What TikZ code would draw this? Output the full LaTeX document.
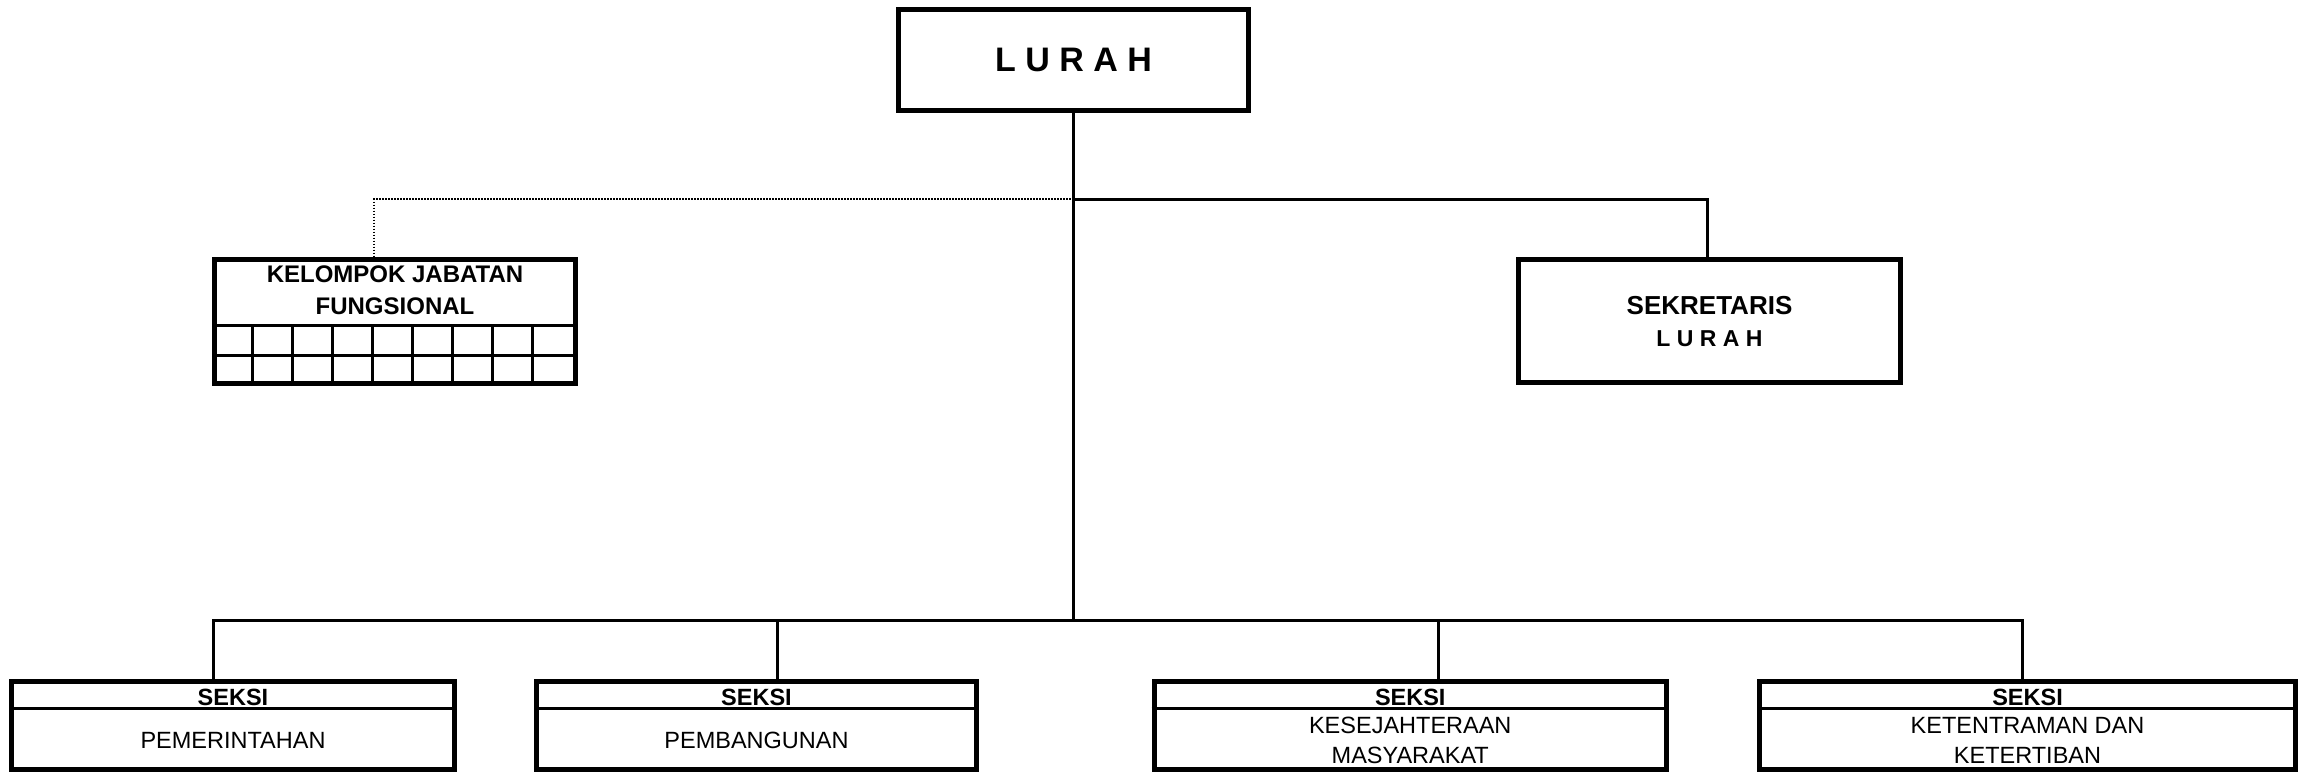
\documentclass[tikz,border=0pt]{standalone}
\usepackage{fontspec}
\setmainfont{Liberation Sans}
\begin{document}
\begin{tikzpicture}[x=1pt,y=-1pt,
  box/.style={draw,line width=5pt,inner sep=0pt,rectangle,fill=white},
  conn/.style={line width=3pt},
  dotconn/.style={line width=2.5pt,dash pattern=on 1.5pt off 1.5pt},
  gridline/.style={line width=3pt},
  txt/.style={inner sep=0pt,align=center,font=\fontsize{23.5}{30}\selectfont},
  btxt/.style={inner sep=0pt,align=center,font=\fontsize{23.5}{32}\selectfont\bfseries}
]
\useasboundingbox (0,0) rectangle (2299,772);

% junction coordinates
\coordinate (j0) at (1073.5,199);
\coordinate (j1) at (1073.5,620);
\coordinate (ksek) at (1707,199);
\coordinate (kk) at (374,199);
\coordinate (b1) at (213,620);
\coordinate (b2) at (777,620);
\coordinate (b3) at (1438,620);
\coordinate (b4) at (2022,620);

% boxes
\node[box,minimum width=350pt,minimum height=101pt] (lurah) at (1073.5,60) {};
\node[box,minimum width=361pt,minimum height=124pt] (kjf) at (395,321.5) {};
\node[box,minimum width=382pt,minimum height=123pt] (sek) at (1709.5,321) {};
\node[box,minimum width=443pt,minimum height=88pt] (s1) at (233,725.5) {};
\node[box,minimum width=440pt,minimum height=88pt] (s2) at (756.5,725.5) {};
\node[box,minimum width=512.5pt,minimum height=88pt] (s3) at (1410.25,725.5) {};
\node[box,minimum width=536pt,minimum height=88pt] (s4) at (2027.5,725.5) {};

% lines
\draw[conn] (lurah.south) -- (j1);
\draw[conn] (j0) -- (ksek) -- (ksek |- sek.north);
\draw[dotconn] (j0) -- (kk) -- (kk |- kjf.north);
\draw[conn] (b1 |- s1.north) -- (b1) -- (b4) -- (b4 |- s4.north);
\draw[conn] (b2) -- (b2 |- s2.north);
\draw[conn] (b3) -- (b3 |- s3.north);

% texts
\node[inner sep=0pt,font=\fontsize{34}{40}\selectfont\bfseries] (lurahT) at (lurah) {L U R A H};

\node[btxt,font=\fontsize{24}{32}\selectfont\bfseries] (kjfT) at (395,290) {KELOMPOK JABATAN\\FUNGSIONAL};
\draw[gridline] ([yshift=60.5pt]kjf.south west) -- ([yshift=60.5pt]kjf.south east);
\draw[gridline] ([yshift=30.5pt]kjf.south west) -- ([yshift=30.5pt]kjf.south east);
\foreach \k in {1,...,8}
  \draw[gridline] ([xshift=\k*40.11pt]kjf.south west) -- ([xshift=\k*40.11pt,yshift=60.5pt]kjf.south west);

\node[inner sep=0pt,font=\fontsize{26}{30}\selectfont\bfseries] (sekT) at (1709.5,306) {SEKRETARIS};
\node[inner sep=0pt,font=\fontsize{23}{30}\selectfont\bfseries] (sekL) at (1709.5,339) {L U R A H};

\foreach \s in {s1,s2,s3,s4}
  \draw[gridline] ([yshift=-29pt]\s.north west) -- ([yshift=-29pt]\s.north east);

\node[btxt] (s1h) at (s1.center |- 0,697) {SEKSI};
\node[btxt] (s2h) at (s2.center |- 0,697) {SEKSI};
\node[btxt] (s3h) at (s3.center |- 0,697) {SEKSI};
\node[btxt] (s4h) at (s4.center |- 0,697) {SEKSI};

\node[txt] (s1b) at (s1.center |- 0,740) {PEMERINTAHAN};
\node[txt] (s2b) at (s2.center |- 0,740) {PEMBANGUNAN};
\node[txt] (s3b) at (s3.center |- 0,740) {KESEJAHTERAAN\\MASYARAKAT};
\node[txt] (s4b) at (s4.center |- 0,740) {KETENTRAMAN DAN\\KETERTIBAN};
\end{tikzpicture}
\end{document}
